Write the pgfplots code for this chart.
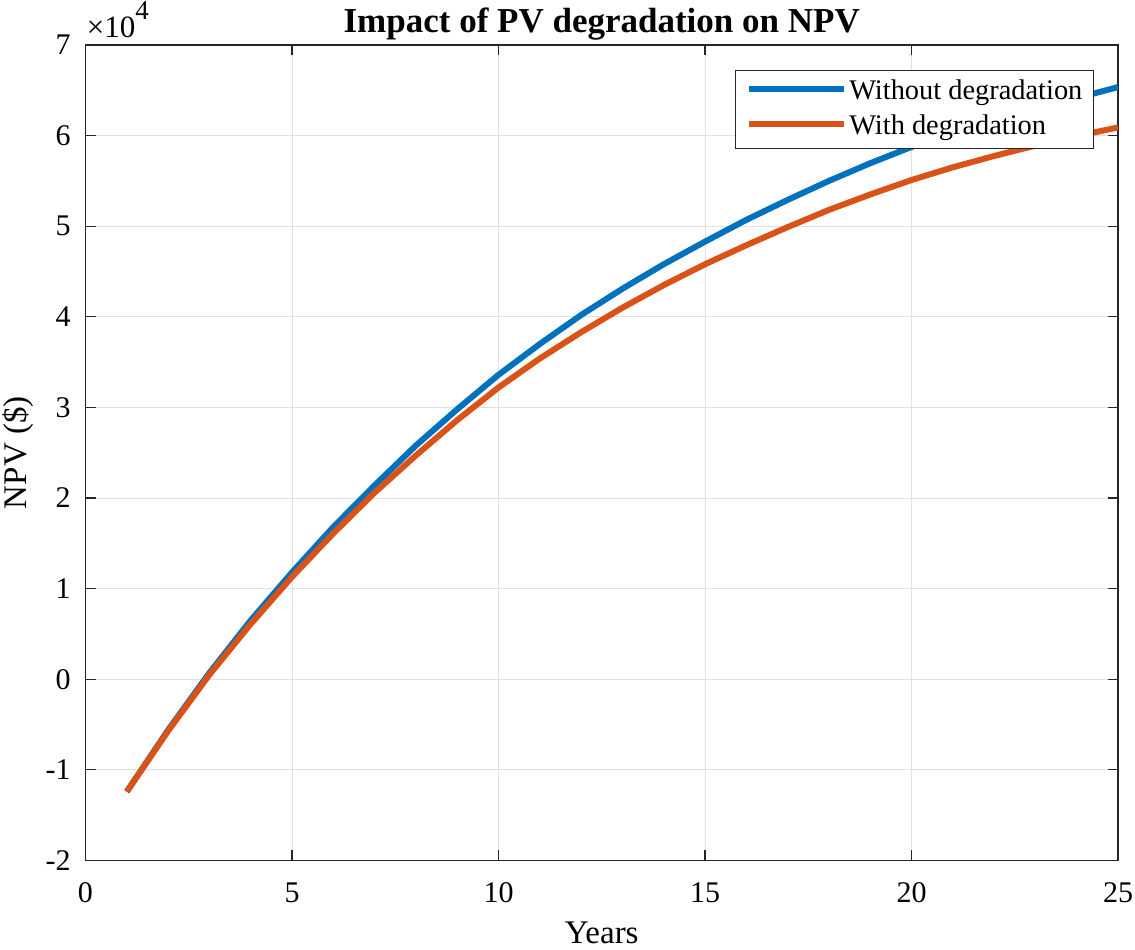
\documentclass[border=0pt]{standalone}
\usepackage{fontspec}
\setmainfont{Liberation Serif}
\usepackage{pgfplots}
\pgfplotsset{compat=1.18}
\definecolor{mblue}{rgb}{0,0.447,0.741}
\definecolor{morange}{rgb}{0.85,0.325,0.098}
\definecolor{axgray}{RGB}{38,38,38}
\definecolor{gridgray}{RGB}{225,225,225}
\begin{document}
\begin{tikzpicture}
\begin{axis}[
  scale only axis, width=516.25pt, height=407.75pt,
  xmin=0, xmax=25, ymin=-20000, ymax=70000,
  xtick={0,5,...,25}, ytick={-20000,-10000,...,70000},
  scaled y ticks=base 10:-4,
  ytick scale label code/.code={},
  tick align=inside, major tick length=5pt,
  grid=major, major grid style={draw=gridgray, line width=0.5pt},
  axis line style={draw=axgray, line width=0.6pt},
  every tick/.style={draw=axgray, line width=0.6pt},
  /pgf/number format/assume math mode=true,
  ticklabel style={font=\fontsize{15}{18}\selectfont, text=black},
  xticklabel style={anchor=base, yshift=-21.25pt, inner sep=0pt},
  yticklabel style={anchor=east, xshift=-7.25pt, inner sep=0pt},
  xlabel={Years}, ylabel={NPV (\$)},
  label style={font=\fontsize{16.5}{19}\selectfont},
  xlabel style={at={(rel axis cs:0.5,0)}, anchor=base, yshift=-41.75pt, inner sep=0pt},
  ylabel style={at={([xshift=-29.4pt]rel axis cs:0,0.5)}, anchor=base, rotate=0, inner sep=0pt},
  every axis title shift=0pt,
  title={Impact of PV degradation on NPV},
  title style={font=\fontsize{17.5}{20}\selectfont\bfseries, at={(rel axis cs:0.5,1)}, anchor=base, yshift=6pt, inner sep=0pt},
  legend style={at={(rel axis cs:1,1)}, anchor=north east, xshift=-12pt, yshift=-12.5pt,
    draw=axgray, line width=0.6pt, fill=white, inner xsep=5.5pt, inner ysep=3.75pt,
    font=\fontsize{14.2}{16}\selectfont, row sep=3.5pt, column sep=1pt,
    nodes={inner sep=0pt, text height=10.5pt, text depth=3.5pt}},
  legend cell align=left,
  legend image code/.code={\draw[#1, line width=3pt] (0pt,1.75pt) -- (47.5pt,1.75pt);},
]
\addplot[mblue, line width=3pt, line join=round] coordinates {
(1,-12400) (2,-5600) (3,700) (4,6500) (5,11800) (6,16800) (7,21400) (8,25800)
(9,29800) (10,33600) (11,37000) (12,40200) (13,43100) (14,45800) (15,48300)
(16,50700) (17,52900) (18,55000) (19,56950) (20,58750) (21,60250) (22,61650)
(23,62950) (24,64150) (25,65350)};
\addlegendentry{Without degradation}
\addplot[morange, line width=3pt, line join=round] coordinates {
(1,-12400) (2,-5700) (3,500) (4,6100) (5,11300) (6,16100) (7,20600) (8,24700)
(9,28600) (10,32200) (11,35400) (12,38300) (13,41000) (14,43500) (15,45800)
(16,47900) (17,49900) (18,51800) (19,53500) (20,55100) (21,56500) (22,57750)
(23,58900) (24,59950) (25,60900)};
\addlegendentry{With degradation}
\coordinate (bl) at (rel axis cs:0,0);
\coordinate (tr) at (rel axis cs:1,1);
\coordinate (tl) at (rel axis cs:0,1);
\end{axis}
\node[anchor=base west, inner sep=0pt, font=\fontsize{15.5}{17}\selectfont] at ([shift={(0.5pt,3.5pt)}]tl) {×10\raisebox{9pt}{\fontsize{13.5}{15}\selectfont 4}};
\pgfresetboundingbox
\path ([shift={(-42.75pt,-44.75pt)}]bl) rectangle ([shift={(8.5pt,22.5pt)}]tr);
\end{tikzpicture}
\end{document}
